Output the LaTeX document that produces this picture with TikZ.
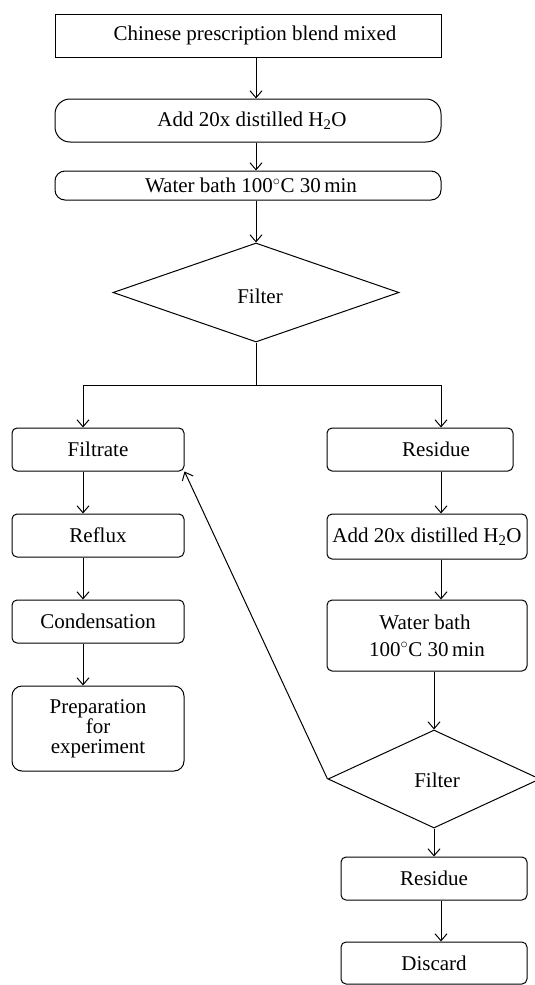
\documentclass[tikz,border=0pt]{standalone}
\usepackage{fontspec}
\setmainfont{Liberation Serif}
\usetikzlibrary{shapes.geometric,arrows.meta,calc}
\begin{document}
\begin{tikzpicture}[x=1pt,y=-1pt,
  every node/.style={font=\fontsize{21}{24}\selectfont, inner sep=0pt, align=center},
  box/.style={draw, line width=1pt, rounded corners=5pt, minimum height=43pt},
  dia/.style={draw, line width=1pt, diamond},
  conn/.style={line width=1pt},
  arr/.style={conn, -{Straight Barb[length=7pt,width=12pt]}}]
\useasboundingbox (0,0) rectangle (535,985);
% main column
\node[box, rounded corners=0pt, minimum width=386pt] (top) at (248,35.5) {\hspace*{14pt}Chinese prescription blend mixed};
\node[box, rounded corners=15pt, minimum width=386pt] (add1) at (248,120.5) {\hspace*{8pt}Add 20x distilled H\textsubscript{2}O};
\node[box, rounded corners=10pt, minimum width=386pt, minimum height=29pt] (bath1) at (248,185.5) {\hspace*{6pt}Water bath 100$^\circ$C 30\,min};
\node[dia, minimum width=286pt, minimum height=99pt] (f1) at (256,292.5) {};
\node at (260,296) {Filter};
% left column
\node[box, minimum width=172pt] (filtrate) at (98,449.5) {Filtrate};
\node[box, minimum width=172pt] (reflux) at (98,535.5) {Reflux};
\node[box, minimum width=172pt] (cond) at (98,621.5) {Condensation};
\node[box, rounded corners=10pt, minimum width=172pt, minimum height=85pt,
      font=\fontsize{21}{20}\selectfont] (prep) at (98,728.5) {Preparation\\for\\experiment};
% right column
\node[box, minimum width=186pt] (res1) at (420,449.5) {\hspace*{32pt}Residue};
\node[box, minimum width=200pt, minimum height=45pt] (add2) at (427,536.5) {Add 20x distilled H\textsubscript{2}O};
\node[box, minimum width=200pt, minimum height=71pt,
      font=\fontsize{21}{27}\selectfont] (bath2) at (427,635.5) {Water bath\hspace*{4pt}\\100$^\circ$C 30\,min};
\node[dia, minimum width=212pt, minimum height=98pt] (f2) at (434,779) {};
\node at (437,780) {Filter};
\node[box, minimum width=186pt] (res2) at (434,878.5) {Residue};
\node[box, minimum width=186pt, minimum height=42pt] (disc) at (434,963) {Discard};
% split point
\coordinate (split) at (f1.south |- 0,385);
\coordinate (sl) at (83,385);
\coordinate (sr) at (441,385);
% connectors
\draw[arr] (top.south -| f1.north) -- (add1.north -| f1.north);
\draw[arr] (add1.south -| f1.north) -- (bath1.north -| f1.north);
\draw[arr] (bath1.south -| f1.north) -- (f1.north);
\draw[conn] (f1.south) -- (split);
\draw[conn] (sl) -- (sr);
\draw[arr] (sl) -- (filtrate.north -| sl);
\draw[arr] (sr) -- (res1.north -| sr);
\draw[arr] (filtrate.south -| sl) -- (reflux.north -| sl);
\draw[arr] (reflux.south -| sl) -- (cond.north -| sl);
\draw[arr] (cond.south -| sl) -- (prep.north -| sl);
\draw[arr] (res1.south -| sr) -- (add2.north -| sr);
\draw[arr] (add2.south -| sr) -- (bath2.north -| sr);
\draw[arr] (bath2.south -| f2.north) -- (f2.north);
\draw[arr] (f2.south) -- (res2.north -| f2.south);
\draw[arr] (res2.south -| sr) -- (disc.north -| sr);
\draw[arr] (f2.west) -- (filtrate.south east);
\end{tikzpicture}
\end{document}
